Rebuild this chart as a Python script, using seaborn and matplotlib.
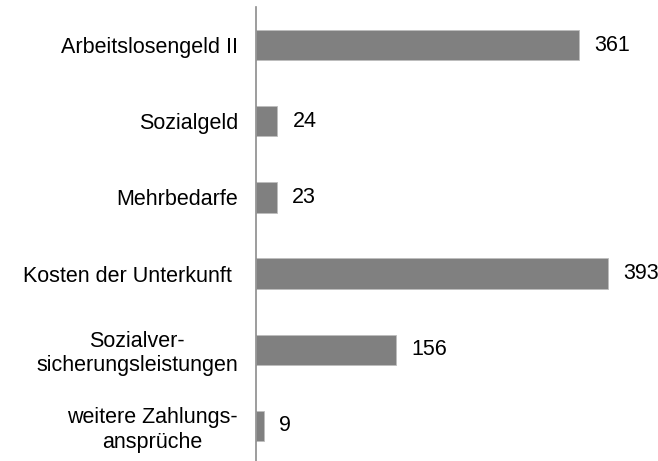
import matplotlib
matplotlib.use("Agg")
import matplotlib.pyplot as plt
import seaborn as sns
import pandas as pd

categories = [
    "Arbeitslosengeld II",
    "Sozialgeld",
    "Mehrbedarfe",
    "Kosten der Unterkunft ",
    "Sozialver-\nsicherungsleistungen",
    "weitere Zahlungs-\nansprüche",
]
values = [361, 24, 23, 393, 156, 9]

df = pd.DataFrame({"Kategorie": categories, "Wert": values})

sns.set_theme(style="white")
plt.rcParams["font.family"] = ["Liberation Sans", "DejaVu Sans"]

fig = plt.figure(figsize=(6.58, 4.61), dpi=100)
ax = fig.add_axes([256 / 658, 0.0, 1 - 256 / 658, (461 - 7) / 461])

sns.barplot(data=df, y="Kategorie", x="Wert", orient="h", color="#808080",
            saturation=1, width=0.4, edgecolor="#bdbdbd", linewidth=0.6, ax=ax)

for i, v in enumerate(values):
    ax.annotate(str(v), xy=(v, i), xytext=(11, 0), textcoords="offset points",
                va="center", ha="left", fontsize=15.5, color="black")

ax.set_xlim(0, 449)
ax.set_ylim(5.46, -0.5)
ax.set_xlabel("")
ax.set_ylabel("")
ax.set_xticks([])
ax.tick_params(axis="y", length=0, pad=13, labelsize=15.5, labelcolor="black")
for lbl in ax.get_yticklabels():
    lbl.set_multialignment("center")
for side in ["top", "right", "bottom"]:
    ax.spines[side].set_visible(False)
ax.spines["left"].set_color("#8c8c8c")
ax.spines["left"].set_linewidth(1.2)

fig.savefig("out.png", dpi=100)
